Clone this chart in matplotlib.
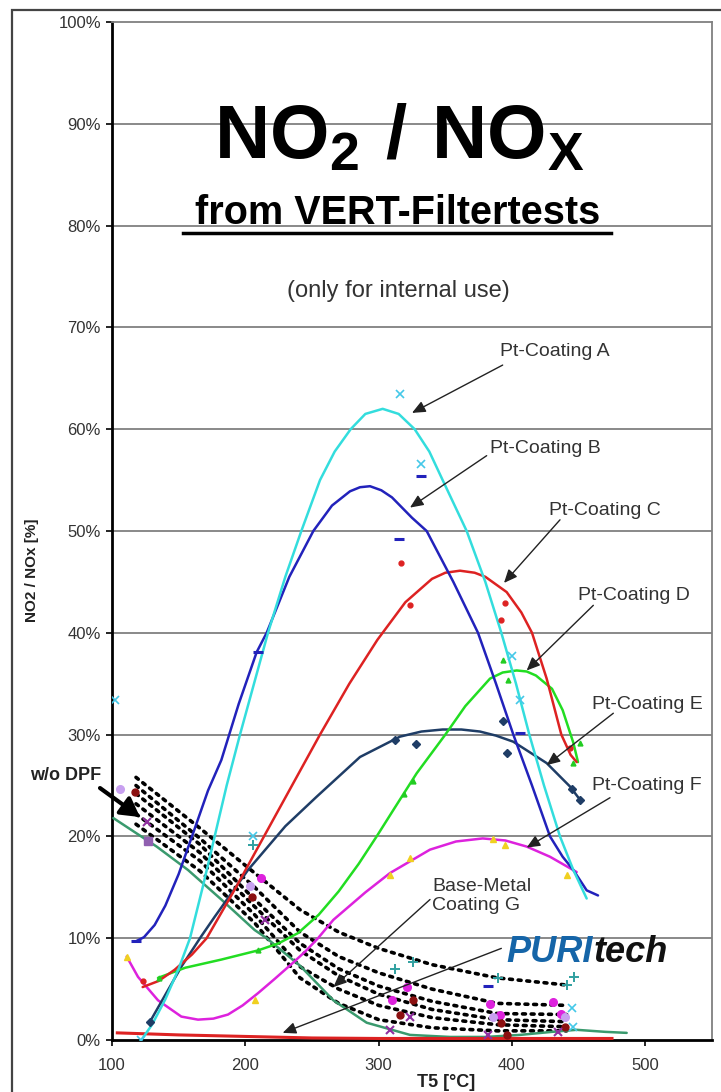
import matplotlib
matplotlib.use("Agg")
import matplotlib.pyplot as plt
from matplotlib.patches import Rectangle
from matplotlib.lines import Line2D

plt.rcParams['font.family'] = ['Liberation Sans', 'DejaVu Sans']
plt.rcParams['mathtext.fontset'] = 'custom'
plt.rcParams['mathtext.bf'] = 'Liberation Sans:bold'
plt.rcParams['mathtext.rm'] = 'Liberation Sans'

# ---------------- data ----------------
# trendline curves
A_x = [122, 130, 140, 150, 158.5, 168, 177, 186, 196, 206.5, 217, 230, 242, 256, 267, 279, 290, 303, 315, 327, 338, 348, 366, 380, 392, 403, 413, 424, 436, 446, 456]
A_y = [0, 1.5, 4, 7, 10, 15, 20, 25, 30, 35, 40, 45.5, 50, 55, 57.8, 60, 61.5, 62, 61.5, 60, 57.8, 55, 50, 45, 40, 35, 30, 25, 20, 16.7, 13.9]

B_x = [118, 124, 132, 140, 150, 160, 172, 182, 195, 208.5, 216, 233, 251, 265, 278.5, 286, 293.5, 302, 310, 325, 336, 346, 356, 374.5, 388, 401, 415, 428.5, 438, 446, 456, 464.5]
B_y = [9.7, 10.1, 11.3, 13.2, 16.3, 20, 24.5, 27.5, 33, 38.1, 40, 45.5, 50, 52.5, 53.9, 54.3, 54.4, 54, 53.3, 51.3, 50, 47.5, 45, 40, 35, 30, 25, 20, 18, 16.7, 14.7, 14.2]

C_x = [123, 135, 147, 160, 171, 193, 214, 235, 256, 278, 299, 320, 340, 350, 361, 372, 380, 396, 407, 415, 426, 437, 444, 448.5]
C_y = [5.2, 5.8, 6.9, 8.4, 10, 15, 20, 25, 30, 35, 39.3, 43, 45.3, 45.9, 46.1, 45.9, 45.5, 44, 42, 40, 35.5, 30, 28, 27.3]

D_x = [134.5, 155, 182, 209.5, 225, 239.5, 255, 270, 285, 298.5, 312, 328.5, 350, 365, 383.5, 393, 403.5, 411, 418, 430, 438, 446, 449.5]
D_y = [6.1, 7.1, 7.9, 8.8, 9.5, 10.5, 12.3, 14.6, 17.3, 20, 22.8, 26.2, 30, 32.8, 35.5, 36.1, 36.3, 36.2, 35.8, 34.5, 32.4, 29.2, 27.3]

E_x = [128.5, 152, 167, 177, 202, 230, 253.5, 286, 316, 332, 348, 362, 376, 388, 401, 426, 443.5, 451]
E_y = [1.8, 7.2, 10.2, 12.1, 16.7, 21, 23.9, 27.8, 29.8, 30.3, 30.5, 30.5, 30.3, 29.9, 29.3, 27.2, 24.9, 23.6]

F_x = [111, 119.5, 134.5, 152, 164.5, 176, 187, 198, 209.5, 222, 235, 245, 254.5, 266, 290, 308.5, 338.5, 358, 378, 395, 411, 428.5, 448.5]
F_y = [8.2, 6.2, 3.9, 2.3, 2.0, 2.1, 2.5, 3.4, 4.6, 6.0, 7.5, 8.7, 10, 11.8, 14.5, 16.4, 18.7, 19.5, 19.8, 19.6, 19, 18, 16.5]

G_x = [101, 130, 133.5, 157, 182, 207, 216, 241, 266, 291, 323.5, 353.5, 380, 406, 430, 448.5, 470, 486]
G_y = [21.8, 19.3, 19.0, 16.7, 13.8, 10.8, 10, 7.3, 3.9, 1.7, 0.5, 0.3, 0.3, 0.5, 0.8, 1.0, 0.8, 0.7]

R0_x = [104, 150, 200, 250, 300, 400, 475]
R0_y = [0.7, 0.5, 0.35, 0.2, 0.15, 0.15, 0.15]

# dotted "w/o DPF" curves
dot_x = [118, 166, 207, 241, 270, 300, 340, 389, 441]
dot_1 = [25.8, 20.8, 16.4, 12.8, 10.6, 9.0, 7.4, 6.1, 5.4]
dot_2 = [25.0, 19.8, 15.0, 10.6, 8.2, 6.6, 5.0, 3.6, 3.4]
dot_3 = [24.2, 19.2, 13.8, 9.5, 7.0, 5.3, 3.8, 2.6, 2.5]
dot_4 = [23.2, 18.4, 13.1, 8.8, 6.3, 4.5, 3.0, 2.0, 1.8]
dot_5 = [22.2, 17.6, 12.3, 7.2, 5.0, 3.4, 2.2, 1.5, 1.3]
dot_6 = [21.2, 16.6, 11.5, 6.1, 3.6, 2.0, 1.2, 0.9, 0.9]

# measured points
A_px = [102, 122, 206, 316, 331.5, 400, 406, 445, 446]
A_py = [33.4, 0, 20, 63.5, 56.6, 37.7, 33.4, 3.1, 1.3]
B_px = [118, 209.5, 315, 331.5, 406, 382]
B_py = [9.7, 38.1, 49.2, 55.4, 30.2, 5.3]
C_px = [123, 316.5, 323.5, 395, 392, 443.5]
C_py = [5.8, 46.9, 42.7, 42.9, 41.3, 28.7]
D_px = [135, 209.5, 319, 326, 393.5, 397, 446, 451]
D_py = [6.1, 8.8, 24.2, 25.4, 37.3, 35.4, 27.2, 29.2]
E_px = [128.5, 312, 328, 393.5, 396, 445, 451]
E_py = [1.8, 29.5, 29.1, 31.3, 28.2, 24.7, 23.6]
F_px = [111, 207, 308.5, 323.5, 386, 395, 441]
F_py = [8.2, 3.9, 16.2, 17.9, 19.7, 19.2, 16.2]
mag_px = [212, 321, 310, 383.5, 431, 437, 391]
mag_py = [15.9, 5.2, 3.9, 3.5, 3.7, 2.6, 2.5]
lav_px = [106, 203.5, 386, 440]
lav_py = [24.7, 15.1, 2.3, 2.3]
dred_px = [117, 205, 326, 316, 392, 396, 440]
dred_py = [24.4, 14.0, 3.9, 2.5, 1.7, 0.5, 1.3]
pux_px = [126, 215, 323.5, 308.5, 382, 434.5]
pux_py = [21.4, 11.8, 2.3, 1.0, 0.5, 0.8]
sq_px = [127]
sq_py = [19.5]
teal_px = [206, 312, 326, 389.5, 441, 446.5]
teal_py = [19.2, 7.0, 7.7, 6.1, 5.4, 6.2]

y_ticks = [0, 10, 20, 30, 40, 50, 60, 70, 80, 90, 100]
x_ticks = [100, 200, 300, 400, 500]

labels = ['Pt-Coating A', 'Pt-Coating B', 'Pt-Coating C', 'Pt-Coating D',
          'Pt-Coating E', 'Pt-Coating F', 'Base-Metal\nCoating G']

# ---------------- figure ----------------
W, H = 721, 1092
fig = plt.figure(figsize=(W / 100, H / 100), dpi=100)
fig.patches.append(Rectangle((12 / W, -0.1), 1.2, 1 - 10 / H + 0.1, transform=fig.transFigure,
                             fill=False, edgecolor='#444444', lw=1.6, zorder=0))
ax = fig.add_axes([112 / W, 52 / H, 600 / W, 1018 / H])
ax.set_xlim(100, 550)
ax.set_ylim(0, 100)

ax.set_yticks(y_ticks)
ax.set_yticklabels([f'{v}%' for v in y_ticks])
ax.set_xticks(x_ticks)
ax.set_xticklabels([str(v) for v in x_ticks])
ax.tick_params(axis='y', direction='out', length=4, width=1.2, pad=4, labelsize=12, labelcolor='#333333')
ax.tick_params(axis='x', direction='out', length=4, width=1.2, pad=9, labelsize=12, labelcolor='#333333')
for v in y_ticks[1:-1]:
    ax.axhline(v, color='#808080', lw=1.3, zorder=1)
ax.spines['left'].set_linewidth(2)
ax.spines['bottom'].set_linewidth(2)
ax.spines['top'].set_color('#808080')
ax.spines['right'].set_color('#808080')
ax.spines['top'].set_linewidth(1.3)
ax.spines['right'].set_linewidth(1.3)

# dotted curves
for d in [dot_1, dot_2, dot_3, dot_4, dot_5, dot_6]:
    ax.plot(dot_x, d, color='black', lw=2.6, linestyle=(0, (0.8, 1.6)),
            dash_capstyle='round', zorder=3)

# trendlines
kw = dict(lw=1.8, solid_joinstyle='round', solid_capstyle='round')
ax.plot(G_x, G_y, color='#3a9a6e', zorder=4, **kw)
ax.plot(R0_x, R0_y, color='#dd2222', lw=2.2, zorder=4)
ax.plot(F_x, F_y, color='#dd22dd', zorder=4, **kw)
ax.plot(E_x, E_y, color='#1f3d66', zorder=4, **kw)
ax.plot(D_x, D_y, color='#22dd22', zorder=4, **kw)
ax.plot(C_x, C_y, color='#dd2222', zorder=4, **kw)
ax.plot(B_x, B_y, color='#2222bb', zorder=5, **kw)
ax.plot(A_x, A_y, color='#33dddd', zorder=5, **kw)

# measured points
ax.plot(A_px, A_py, 'x', color='#44c8e8', ms=5.5, mew=1.2, zorder=6)
ax.plot(B_px, B_py, '_', color='#2222bb', ms=6.5, mew=2.2, zorder=6)
ax.plot(C_px, C_py, 'o', color='#dd2222', ms=3.5, zorder=6)
ax.plot(D_px, D_py, '^', color='#22cc22', ms=3.5, zorder=6)
ax.plot(E_px, E_py, 'D', color='#1f3d66', ms=4.5, zorder=6)
ax.plot(F_px, F_py, '^', color='#f0d020', ms=4.5, zorder=6)
ax.plot(mag_px, mag_py, 'o', color='#dd22dd', ms=5.5, zorder=6)
ax.plot(lav_px, lav_py, 'o', color='#c8a0f0', ms=5.5, zorder=6)
ax.plot(dred_px, dred_py, 'o', color='#8b1010', ms=5, zorder=6)
ax.plot(pux_px, pux_py, 'x', color='#9030a0', ms=5.5, mew=1.5, zorder=6)
ax.plot(sq_px, sq_py, 's', color='#9060b0', ms=5.5, zorder=6)
ax.plot(teal_px, teal_py, '+', color='#30a0a0', ms=6.5, mew=1.4, zorder=6)

# titles
ax.text(315, 86.6, r'$\mathbf{NO_2\ /\ NO_X}$', ha='center', va='baseline', fontsize=55, zorder=7)
ax.text(314, 80.2, 'from VERT-Filtertests', ha='center', va='baseline', fontsize=28.5,
        fontweight='bold', zorder=7)
ax.add_line(Line2D([153, 474], [79.3, 79.3], color='black', lw=2.5, zorder=7))
ax.text(315, 73.6, '(only for internal use)', ha='center', va='center', fontsize=17, color='#333333')

# curve labels + arrows
lab_pos = [(391, 67.6), (383.5, 58.1), (428, 52.0), (449.5, 43.7), (460, 33.0), (460, 25.0), (340, 14.1)]
arrows = [((393, 66.3), (325, 61.6)), ((381, 57.4), (323.5, 52.3)), ((436, 51.1), (394, 44.9)),
          ((461, 42.7), (411, 36.3)), ((476, 32.1), (426, 27.0)), ((473.5, 23.8), (411, 18.9)),
          ((338.5, 13.8), (266, 5.2))]
for lab, (lx, ly), (tail, head) in zip(labels, lab_pos, arrows):
    ax.text(lx, ly, lab, ha='left', va='center', fontsize=14, color='#333333', linespacing=1.15, zorder=7)
    ax.annotate('', xy=head, xytext=tail,
                arrowprops=dict(arrowstyle='-|>,head_length=0.8,head_width=0.35', color='#222222',
                                lw=1.0, mutation_scale=10, shrinkA=0, shrinkB=0), zorder=7)
ax.annotate('', xy=(228, 0.7), xytext=(392, 9.0),
            arrowprops=dict(arrowstyle='-|>,head_length=0.8,head_width=0.35', color='#222222',
                            lw=1.0, mutation_scale=10, shrinkA=0, shrinkB=0), zorder=7)

# w/o DPF
ax.text(65.5, 26.0, 'w/o DPF', ha='center', va='center', fontsize=13, fontweight='bold',
        color='#222222', clip_on=False)
ax.annotate('', xy=(121, 21.9), xytext=(91, 24.75), annotation_clip=False,
            arrowprops=dict(arrowstyle='-|>,head_length=0.8,head_width=0.45', color='black',
                            lw=3, mutation_scale=14, shrinkA=0, shrinkB=0), zorder=7)

# PURItech logo
t1 = ax.text(396, 8.55, 'PURI', color='#1565a8', fontsize=26, fontweight='bold',
             fontstyle='italic', ha='left', va='center', zorder=8)
ax.annotate('tech', xy=(1, 0.5), xycoords=t1, ha='left', va='center', fontsize=26,
            fontweight='bold', fontstyle='italic', color='#111111', zorder=8)

# axis titles
fig.text(32 / W, 1 - 570 / H, 'NO2 / NOx [%]', rotation=90, ha='center', va='center',
         fontsize=11, fontweight='bold', color='#222222')
ax.text(350.5, -4.2, 'T5 [°C]', ha='center', va='center', fontsize=13, fontweight='bold',
        color='#222222', clip_on=False)

fig.savefig('out.png', dpi=100)
